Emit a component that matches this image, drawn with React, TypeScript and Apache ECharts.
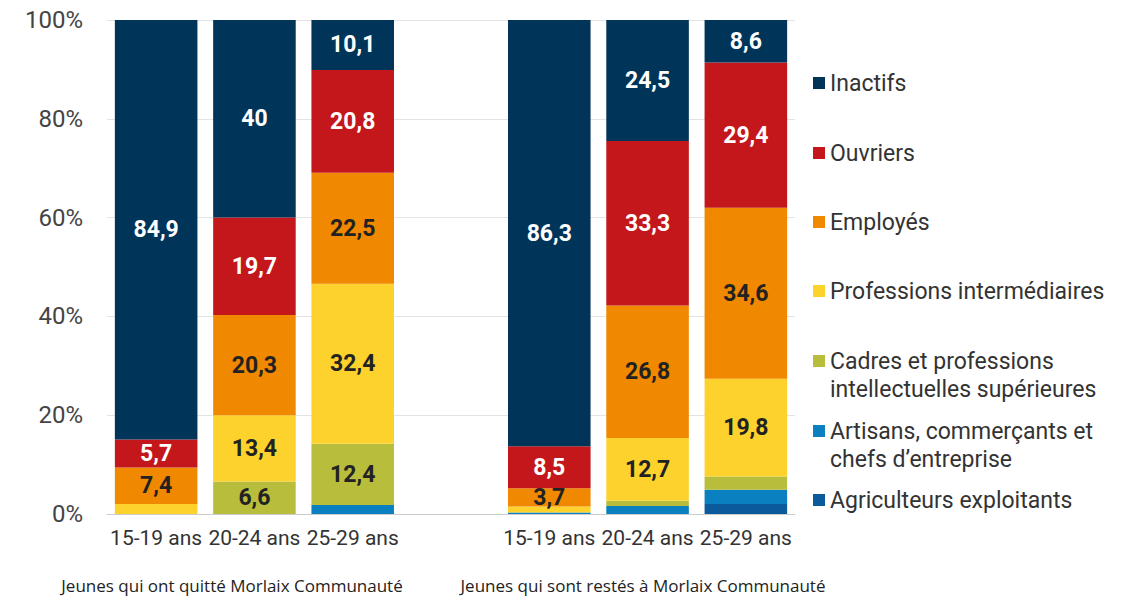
import React, { useEffect, useRef } from "react";
import * as echarts from "echarts";

const categories = ["15-19 ans", "20-24 ans", "25-29 ans", "", "15-19 ans", "20-24 ans", "25-29 ans"];
const seriesNames = [
  "Agriculteurs exploitants",
  "Artisans, commerçants et chefs d'entreprise",
  "Cadres et professions intellectuelles supérieures",
  "Professions intermédiaires",
  "Employés",
  "Ouvriers",
  "Inactifs",
];
const legendLabels = [
  "Agriculteurs exploitants",
  "Artisans, commerçants et\nchefs d’entreprise",
  "Cadres et professions\nintellectuelles supérieures",
  "Professions intermédiaires",
  "Employés",
  "Ouvriers",
  "Inactifs",
];
const agriculteurs = [0, 0, 0, null, 0, 0, 2.0];
const artisans = [0, 0, 1.8, null, 0.3, 1.6, 2.9];
const cadres = [0, 6.6, 12.4, null, 0, 1.1, 2.7];
const profInter = [2.0, 13.4, 32.4, null, 1.2, 12.7, 19.8];
const employes = [7.4, 20.3, 22.5, null, 3.7, 26.8, 34.6];
const ouvriers = [5.7, 19.7, 20.8, null, 8.5, 33.3, 29.4];
const inactifs = [84.9, 40, 10.1, null, 86.3, 24.5, 8.6];
const groupLabels = ["Jeunes qui ont quitté Morlaix Communauté", "Jeunes qui sont restés à Morlaix Communauté"];
const yTicks = [0, 20, 40, 60, 80, 100];

const seriesData = [agriculteurs, artisans, cadres, profInter, employes, ouvriers, inactifs];
const colors = ["#0b5a9b", "#0a80c0", "#b8bd3c", "#fdd22c", "#f08800", "#c3171c", "#003459"];
const labelColors = ["#fff", "#fff", "#222", "#222", "#222", "#fff", "#fff"];
const legendCenters = [500, 431, 361, 291, 222, 153, 83];

const FONT = "Roboto, 'Noto Sans', sans-serif";

export default function App() {
  const ref = useRef<HTMLDivElement>(null);
  useEffect(() => {
    document.body.style.margin = "0";
    const chart = echarts.init(ref.current!, null, { renderer: "svg" });
    const series = seriesNames.map((name, i) => ({
      name,
      type: "bar",
      stack: "total",
      barCategoryGap: "16%",
      data: seriesData[i].map((v) => (v === null ? "-" : v)),
      itemStyle: { color: colors[i] },
      label: {
        show: true,
        position: "inside",
        color: labelColors[i],
        fontFamily: FONT,
        fontWeight: "bold",
        fontSize: 23,
        formatter: (p: any) => (typeof p.value === "number" && p.value >= 3 ? String(p.value).replace(".", ",") : ""),
      },
    }));
    const legends = seriesNames.map((name, i) => {
      const twoLines = legendLabels[i].includes("\n");
      return {
        show: true,
        orient: "vertical",
        left: 813,
        top: twoLines ? legendCenters[i] - 42 : legendCenters[i] - 14,
        padding: 0,
        itemWidth: 12,
        itemHeight: 12,
        icon: "rect",
        selectedMode: false,
        data: [name],
        formatter: () => (twoLines ? "\n" + legendLabels[i] : legendLabels[i]),
        textStyle: { fontFamily: FONT, fontSize: 23, color: "#333", lineHeight: 28 },
      };
    });
    chart.setOption({
      animation: false,
      backgroundColor: "#fff",
      textStyle: { fontFamily: FONT },
      grid: { left: 107, right: 338, top: 20, bottom: 83, containLabel: false },
      legend: legends,
      xAxis: {
        type: "category",
        data: categories,
        axisLine: { lineStyle: { color: "#cccccc" } },
        axisTick: { show: false },
        axisLabel: { fontFamily: FONT, fontSize: 21, color: "#333", margin: 13, interval: 0 },
      },
      yAxis: {
        type: "value",
        min: 0,
        max: 100,
        interval: 20,
        axisLine: { show: false },
        axisTick: { show: false },
        splitLine: { lineStyle: { color: "#e3e3e3" } },
        axisLabel: {
          fontFamily: FONT,
          fontSize: 24,
          color: "#444",
          margin: 24,
          formatter: (v: number) => (yTicks.includes(v) ? `${v}%` : ""),
        },
      },
      graphic: [
        {
          type: "text",
          x: 232,
          y: 585,
          style: { text: groupLabels[0], fontFamily: "'Open Sans', sans-serif", fontWeight: 500, fontSize: 17, lineHeight: 20, fill: "#222", align: "center", verticalAlign: "middle" },
        },
        {
          type: "text",
          x: 643,
          y: 585,
          style: { text: groupLabels[1], fontFamily: "'Open Sans', sans-serif", fontWeight: 500, fontSize: 17, lineHeight: 20, fill: "#222", align: "center", verticalAlign: "middle" },
        },
      ],
      series,
    });
    return () => chart.dispose();
  }, []);
  return <div ref={ref} style={{ width: 1133, height: 597 }} />;
}
